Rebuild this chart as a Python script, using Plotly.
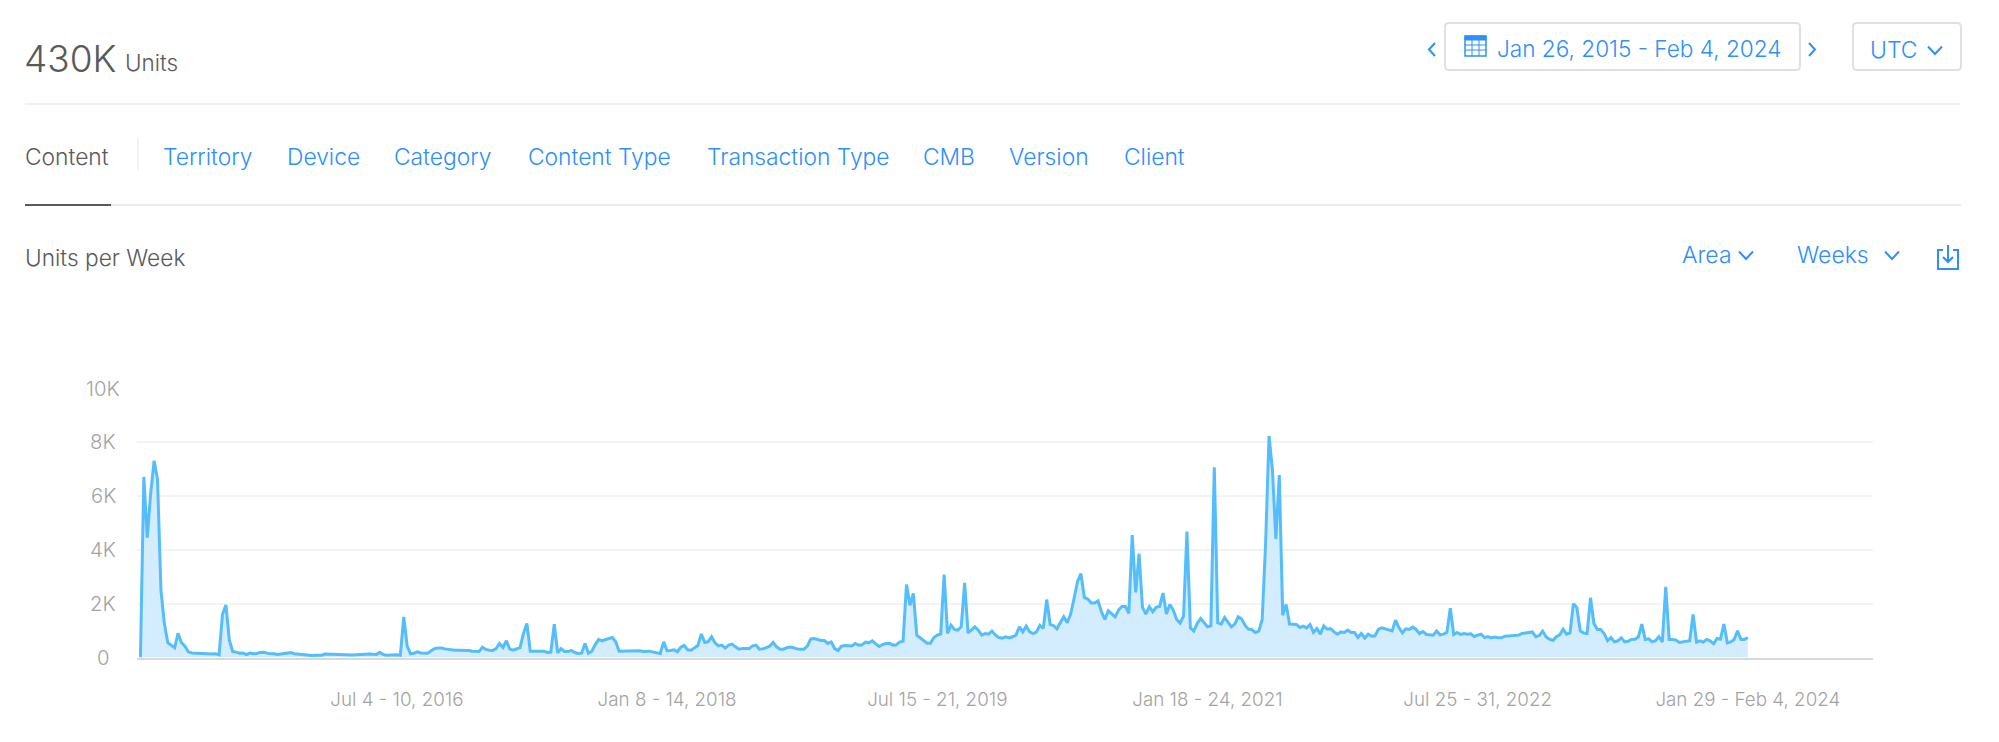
#!/usr/bin/env python
# coding: utf-8
import pandas as pd
import plotly.graph_objects as go

WIDTH = 1999
HEIGHT = 742
FONT = "Inter"
BLUE = "#2f8ffb"
DARK = "#5a5a5a"
GREY = "#a3a3a3"

FIRST_WEEK = "2015-01-26"

units = [
    0, 6700, 4450, 6100, 7300, 6600, 2500, 1260, 550, 450,
    360, 900, 550, 420, 210, 170, 160, 150, 150, 140,
    145, 130, 140, 100, 1600, 1950, 640, 220, 200, 160,
    165, 105, 165, 140, 150, 190, 195, 165, 135, 140,
    110, 130, 150, 175, 180, 140, 130, 120, 100, 75,
    70, 85, 90, 85, 130, 125, 115, 125, 105, 90,
    90, 85, 90, 100, 110, 105, 110, 130, 120, 115,
    190, 110, 85, 95, 100, 100, 85, 1510, 420, 135,
    160, 210, 170, 160, 160, 250, 330, 350, 350, 320,
    300, 300, 270, 270, 270, 260, 260, 235, 220, 220,
    380, 300, 270, 260, 330, 520, 370, 620, 310, 270,
    320, 370, 890, 1260, 235, 235, 220, 220, 235, 185,
    200, 1240, 170, 330, 220, 220, 260, 185, 150, 160,
    520, 160, 235, 480, 670, 620, 670, 705, 740, 580,
    235, 235, 250, 260, 250, 235, 250, 220, 220, 235,
    200, 175, 150, 580, 250, 260, 285, 210, 380, 445,
    285, 270, 360, 445, 870, 560, 590, 770, 545, 430,
    460, 350, 460, 495, 395, 310, 330, 330, 330, 430,
    460, 310, 320, 370, 420, 560, 395, 310, 310, 360,
    385, 360, 320, 310, 310, 420, 690, 705, 670, 630,
    630, 520, 580, 330, 260, 420, 445, 445, 430, 520,
    460, 470, 570, 545, 620, 505, 410, 480, 520, 530,
    460, 470, 570, 605, 2710, 1940, 2380, 830, 730, 645,
    530, 530, 740, 830, 870, 3080, 890, 1200, 1040, 1015,
    1140, 2770, 915, 1015, 1140, 1015, 830, 890, 865, 980,
    830, 740, 720, 770, 730, 770, 830, 1140, 950, 1160,
    950, 890, 950, 1190, 1080, 2150, 1225, 1180, 1065, 1300,
    1510, 1290, 1610, 2190, 2810, 3110, 2230, 2170, 2020, 2020,
    2105, 1700, 1410, 1730, 1610, 1510, 1760, 1895, 1895, 1635,
    4545, 2415, 3850, 1860, 1610, 1880, 1700, 1860, 1895, 2390,
    1610, 1970, 1760, 1410, 1275, 1535, 4670, 1100, 980, 1260,
    1450, 1300, 1140, 1175, 7060, 1290, 1240, 1485, 1325, 1140,
    1240, 1510, 1425, 1190, 1050, 1030, 930, 980, 1410, 4235,
    8220, 6960, 4395, 6770, 1570, 1970, 1240, 1240, 1225, 1115,
    1165, 1100, 1225, 930, 1075, 865, 1175, 1050, 1075, 950,
    865, 950, 930, 1015, 930, 930, 740, 890, 720, 865,
    790, 805, 1050, 1100, 1065, 1040, 990, 1385, 1100, 915,
    1065, 1040, 1125, 1040, 890, 965, 855, 840, 830, 980,
    840, 865, 930, 1830, 855, 930, 855, 890, 865, 880,
    780, 830, 865, 740, 780, 730, 755, 730, 730, 790,
    805, 805, 815, 830, 890, 915, 930, 950, 770, 815,
    980, 770, 680, 630, 770, 840, 1050, 865, 915, 2000,
    1850, 990, 905, 890, 2215, 1260, 1040, 1040, 890, 620,
    740, 580, 620, 730, 580, 605, 670, 680, 770, 1240,
    670, 695, 580, 620, 770, 580, 2625, 670, 670, 645,
    555, 570, 605, 620, 1600, 570, 620, 570, 670, 620,
    510, 705, 680, 1240, 545, 580, 670, 990, 670, 670, 740,
]
assert len(units) == 471

x_tick_dates = ["2016-07-04", "2018-01-08", "2019-07-15", "2021-01-18", "2022-07-25", "2024-01-29"]
x_tick_labels = [
    "Jul 4 - 10, 2016",
    "Jan 8 - 14, 2018",
    "Jul 15 - 21, 2019",
    "Jan 18 - 24, 2021",
    "Jul 25 - 31, 2022",
    "Jan 29 - Feb 4, 2024",
]
y_tick_values = [0, 2000, 4000, 6000, 8000, 10000]
y_tick_labels = ["0", "2K", "4K", "6K", "8K", "10K"]

tabs = [
    ("Content", 24, DARK),
    ("Territory", 162, BLUE),
    ("Device", 286, BLUE),
    ("Category", 393, BLUE),
    ("Content Type", 527, BLUE),
    ("Transaction Type", 706, BLUE),
    ("CMB", 922, BLUE),
    ("Version", 1008, BLUE),
    ("Client", 1123, BLUE),
]

weeks = pd.date_range(FIRST_WEEK, periods=len(units), freq="7D")


def px(x):
    return x / WIDTH


def py(y):
    return 1 - y / HEIGHT


def text(s, x, y, size, color=BLUE, anchor="left"):
    return dict(
        text=s,
        x=px(x),
        y=py(y),
        xref="paper",
        yref="paper",
        xanchor=anchor,
        yanchor="middle",
        showarrow=False,
        borderpad=0,
        font=dict(family=FONT, size=size, color=color, weight=300),
    )


def hline(x0, x1, y, color, width=2):
    return dict(
        type="line",
        xref="paper",
        yref="paper",
        x0=px(x0),
        x1=px(x1),
        y0=py(y),
        y1=py(y),
        line=dict(color=color, width=width),
        layer="below",
    )


def polyline(points, color=BLUE, width=2):
    path = "M " + " L ".join(f"{px(x)},{py(y)}" for x, y in points)
    return dict(type="path", xref="paper", yref="paper", path=path, line=dict(color=color, width=width))


def box(x0, x1, y0, y1, color=BLUE, width=1.5, fill=None):
    return dict(
        type="rect",
        xref="paper",
        yref="paper",
        x0=px(x0),
        x1=px(x1),
        y0=py(y0),
        y1=py(y1),
        line=dict(color=color, width=width),
        fillcolor=fill,
    )


def round_box(x0, x1, y0, y1, r=4):
    # button outline with small rounded corners
    path = (
        f"M {px(x0 + r)},{py(y0)} L {px(x1 - r)},{py(y0)} Q {px(x1)},{py(y0)} {px(x1)},{py(y0 + r)} "
        f"L {px(x1)},{py(y1 - r)} Q {px(x1)},{py(y1)} {px(x1 - r)},{py(y1)} "
        f"L {px(x0 + r)},{py(y1)} Q {px(x0)},{py(y1)} {px(x0)},{py(y1 - r)} "
        f"L {px(x0)},{py(y0 + r)} Q {px(x0)},{py(y0)} {px(x0 + r)},{py(y0)} Z"
    )
    return dict(type="path", xref="paper", yref="paper", path=path, line=dict(color="#e0e0e0", width=2))


def chevron_down(x, y):
    return polyline([(x - 7, y - 3.5), (x, y + 4), (x + 7, y - 3.5)])


fig = go.Figure()

fig.add_trace(
    go.Scatter(
        x=weeks,
        y=units,
        mode="lines",
        line=dict(color="#54bdfc", width=3),
        fill="tozeroy",
        fillcolor="#d3ecfe",
        hoverinfo="skip",
    )
)

annotations = [
    text("430K", 23, 58, 37, DARK),
    text("Units", 124, 62, 22.5, DARK),
    text("Units per Week", 24, 257, 22.7, DARK),
    text("Jan 26, 2015 - Feb 4, 2024", 1496, 48, 22.6),
    text("UTC", 1869, 50, 23),
    text("Area", 1681, 255, 23),
    text("Weeks", 1796, 255, 23),
]
for label, x, color in tabs:
    annotations.append(text(label, x, 157, 22.8, color))
for value, label in zip(y_tick_values, y_tick_labels):
    note = text(label, 103, 0, 20.3, GREY, "center")
    note["yref"] = "y"
    note["y"] = value
    annotations.append(note)

shapes = [
    hline(25, 1961, 104, "#f1f1f1"),
    hline(25, 1961, 205, "#ebebeb"),
    hline(25, 111, 205, "#5a5a5a"),
    dict(type="line", xref="paper", yref="paper", x0=px(138), x1=px(138), y0=py(138), y1=py(170), line=dict(color="#eeeeee", width=1.5)),
    round_box(1445, 1800, 23, 70),
    round_box(1853, 1961, 23, 70),
    polyline([(1435, 43), (1429, 49.5), (1435, 56)]),
    polyline([(1809, 43), (1815, 49.5), (1809, 56)]),
    chevron_down(1935, 50),
    chevron_down(1746, 255),
    chevron_down(1892, 255),
    # calendar icon
    box(1465, 1486, 36, 56),
    box(1465, 1486, 36, 40, BLUE, 1, BLUE),
    # download icon
    polyline([(1943, 250), (1938, 250), (1938, 269), (1958, 269), (1958, 250), (1953, 250)]),
    polyline([(1948, 245), (1948, 262)]),
    polyline([(1943, 257), (1948, 262), (1953, 257)]),
]
for y in [45, 50]:
    shapes.append(polyline([(1465, y), (1486, y)], BLUE, 1))
for x in [1472, 1479]:
    shapes.append(polyline([(x, 40), (x, 56)], BLUE, 1))

fig.update_layout(
    width=WIDTH,
    height=HEIGHT,
    margin=dict(l=0, r=0, t=0, b=0),
    paper_bgcolor="white",
    plot_bgcolor="white",
    showlegend=False,
    annotations=annotations,
    shapes=shapes,
)

fig.update_xaxes(
    domain=[px(137), px(1873)],
    range=[weeks[0] - pd.Timedelta(days=7), weeks[0] + pd.Timedelta(weeks=506.6)],
    tickvals=x_tick_dates,
    ticktext=x_tick_labels,
    tickfont=dict(family=FONT, size=18.8, color=GREY, weight=300),
    ticks="outside",
    ticklen=24,
    tickcolor="rgba(0,0,0,0)",
    showgrid=False,
    showline=True,
    linecolor="#d8d8d8",
    linewidth=2,
    zeroline=False,
)
fig.update_yaxes(
    domain=[py(657.5), py(388)],
    range=[0, 10000],
    tickvals=y_tick_values,
    showticklabels=False,
    gridcolor="#f3f3f3",
    gridwidth=2,
    zeroline=False,
)

fig.write_html("out.html", config={"displayModeBar": False}, post_script="document.body.style.margin='0';")
